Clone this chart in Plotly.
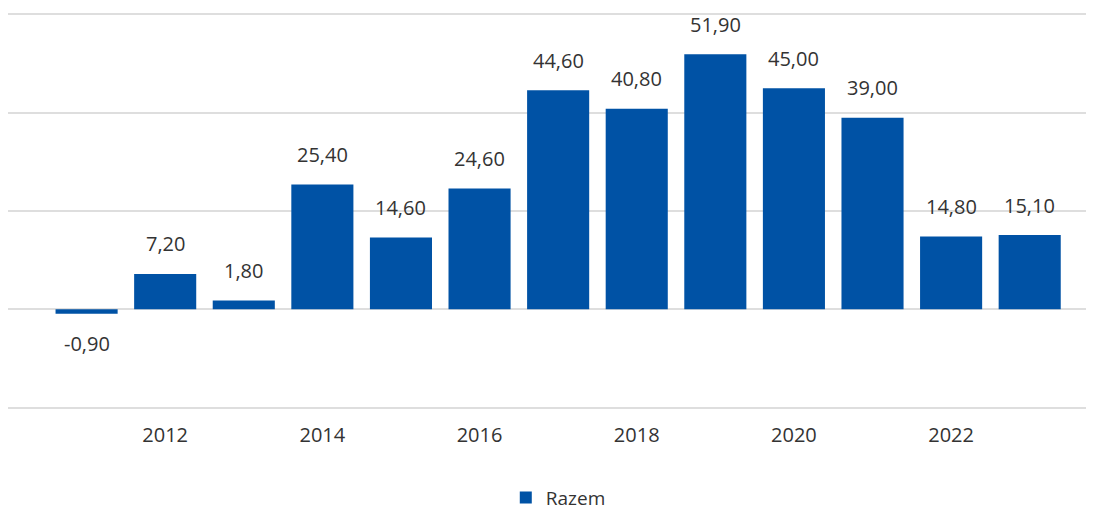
import plotly.graph_objects as go

years = [2011, 2012, 2013, 2014, 2015, 2016, 2017, 2018, 2019, 2020, 2021, 2022, 2023]
values = [-0.90, 7.20, 1.80, 25.40, 14.60, 24.60, 44.60, 40.80, 51.90, 45.00, 39.00, 14.80, 15.10]
series_name = "Razem"

bar_color = "#0052A5"
text_color = "#333333"
font_family = "Open Sans, Noto Sans, sans-serif"

fig = go.Figure()
fig.add_trace(go.Bar(
    x=years, y=values, name=series_name,
    marker=dict(color=bar_color, line=dict(width=0)),
    hoverinfo="skip",
))

annotations = []
for yr, v in zip(years, values):
    annotations.append(dict(
        x=yr, y=v, xref="x", yref="y",
        text=f"{v:.2f}".replace(".", ","),
        showarrow=False, yanchor="middle",
        yshift=30 if v >= 0 else -30,
        font=dict(size=20, color=text_color, family=font_family),
    ))

fig.update_layout(
    width=1094, height=510,
    margin=dict(l=0, r=0, t=4, b=108),
    paper_bgcolor="white", plot_bgcolor="white",
    bargap=0.21,
    separators=", ",
    font=dict(family=font_family, color=text_color),
    showlegend=True,
    legend=dict(orientation="h", x=0.503, xanchor="center", y=-0.22, yanchor="middle",
                font=dict(size=19, color=text_color, family=font_family)),
    annotations=annotations,
    xaxis=dict(range=[2010.0, 2023.92], tickmode="linear", tick0=2012, dtick=2,
               showgrid=False, zeroline=False, showline=False, ticks="",
               tickfont=dict(size=20, color=text_color, family=font_family),
               ticklabelstandoff=11),
    yaxis=dict(range=[-20.5, 60.5], tickmode="linear", tick0=0, dtick=20,
               showgrid=True, gridcolor="#dedede", gridwidth=1.5,
               zeroline=True, zerolinecolor="#dedede", zerolinewidth=1.5,
               showticklabels=False, ticks=""),
)

fig.write_html("out.html")
